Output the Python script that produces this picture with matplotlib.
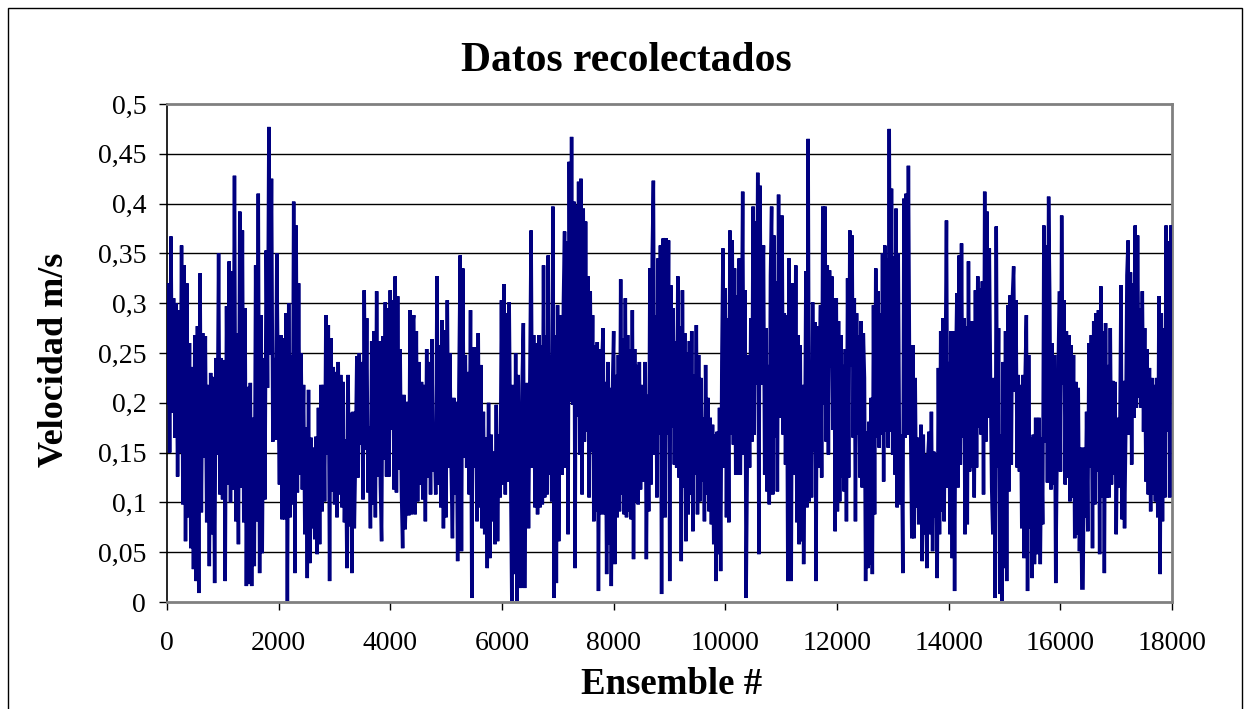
import numpy as np
import matplotlib
matplotlib.use("Agg")
import matplotlib.pyplot as plt
from matplotlib.patches import Rectangle
from matplotlib.ticker import FuncFormatter

plt.rcParams['font.family'] = ['Liberation Serif', 'DejaVu Serif']

# Velocity readings (m/s), segment by segment along the ensemble axis
seg_bounds = [0, 2180, 4420, 6660, 8900, 11140, 13380, 15620, 18000]

seg1 = [0.20, 0.32, 0.15, 0.367, 0.19, 0.305, 0.165, 0.30, 0.126, 0.293, 0.15, 0.358, 0.098, 0.338,
        0.061, 0.32, 0.085, 0.26, 0.054, 0.236, 0.033, 0.268, 0.021, 0.277, 0.009, 0.33, 0.09, 0.27,
        0.145, 0.267, 0.08, 0.218, 0.036, 0.23, 0.068, 0.226, 0.019, 0.245, 0.148, 0.35, 0.108, 0.245,
        0.103, 0.243, 0.021, 0.297, 0.118, 0.342, 0.10, 0.332, 0.113, 0.428, 0.081, 0.27, 0.058, 0.392,
        0.115, 0.373, 0.08, 0.295, 0.016, 0.216, 0.018, 0.22, 0.016, 0.185, 0.036, 0.338, 0.081, 0.41,
        0.029, 0.288, 0.049, 0.245, 0.103, 0.353, 0.215, 0.477, 0.248, 0.425, 0.161, 0.245, 0.163, 0.35,
        0.215, 0.118, 0.268, 0.083, 0.265, 0.083, 0.29, 0.001]

seg2 = [0.30, 0.085, 0.248, 0.098, 0.402, 0.029, 0.378, 0.11, 0.32, 0.128, 0.25, 0.113, 0.218, 0.068,
        0.175, 0.024, 0.213, 0.039, 0.165, 0.074, 0.155, 0.063, 0.166, 0.048, 0.195, 0.058, 0.218, 0.091,
        0.218, 0.101, 0.288, 0.148, 0.278, 0.021, 0.265, 0.111, 0.236, 0.098, 0.231, 0.085, 0.241, 0.108,
        0.228, 0.095, 0.221, 0.08, 0.163, 0.034, 0.228, 0.076, 0.19, 0.029, 0.191, 0.074, 0.151, 0.247,
        0.125, 0.25, 0.158, 0.241, 0.103, 0.313, 0.153, 0.285, 0.11, 0.176, 0.074, 0.262, 0.098, 0.272,
        0.085, 0.312, 0.126, 0.262, 0.118, 0.061, 0.267, 0.143, 0.301, 0.126, 0.295, 0.126, 0.313, 0.173,
        0.303, 0.113, 0.327, 0.11, 0.307, 0.133, 0.254, 0.113, 0.054, 0.208, 0.073, 0.115, 0.201, 0.087,
        0.293, 0.088, 0.278]

seg3 = [0.288, 0.088, 0.272, 0.101, 0.241, 0.118, 0.221, 0.103, 0.218, 0.081, 0.254, 0.125, 0.241,
        0.108, 0.264, 0.131, 0.168, 0.108, 0.327, 0.118, 0.258, 0.095, 0.283, 0.074, 0.273, 0.085, 0.303,
        0.135, 0.25, 0.135, 0.064, 0.205, 0.108, 0.201, 0.041, 0.218, 0.348, 0.051, 0.335, 0.145, 0.248,
        0.135, 0.231, 0.108, 0.293, 0.004, 0.256, 0.135, 0.256, 0.081, 0.27, 0.095, 0.238, 0.074, 0.191,
        0.068, 0.165, 0.034, 0.20, 0.044, 0.168, 0.081, 0.151, 0.058, 0.198, 0.061, 0.168, 0.105, 0.303,
        0.118, 0.319, 0.108, 0.29, 0.121, 0.301, 0.145, 0.001, 0.218, 0.028, 0.25, 0.001, 0.228, 0.101,
        0.014, 0.218, 0.28, 0.014, 0.168, 0.22, 0.074, 0.225, 0.373, 0.135, 0.268, 0.095, 0.26, 0.088]

seg4 = [0.268, 0.095, 0.258, 0.098, 0.338, 0.105, 0.268, 0.108, 0.348, 0.128, 0.248, 0.101, 0.397,
        0.004, 0.268, 0.019, 0.298, 0.061, 0.205, 0.288, 0.128, 0.301, 0.372, 0.135, 0.362, 0.068, 0.442,
        0.201, 0.467, 0.198, 0.402, 0.034, 0.398, 0.186, 0.422, 0.148, 0.425, 0.108, 0.395, 0.161, 0.382,
        0.171, 0.327, 0.105, 0.312, 0.151, 0.288, 0.081, 0.258, 0.091, 0.261, 0.011, 0.254, 0.088, 0.245,
        0.275, 0.088, 0.221, 0.028, 0.241, 0.058, 0.215, 0.016, 0.215, 0.272, 0.038, 0.228, 0.085, 0.248,
        0.091, 0.324, 0.108, 0.265, 0.088, 0.305, 0.085, 0.268, 0.091, 0.254, 0.083, 0.293, 0.043, 0.254,
        0.101, 0.238, 0.098, 0.241, 0.113, 0.218, 0.121, 0.186, 0.241, 0.043, 0.208, 0.091, 0.335, 0.118,
        0.348, 0.423, 0.148, 0.288, 0.105, 0.345, 0.168, 0.358, 0.008, 0.365]

seg5 = [0.362, 0.085, 0.365, 0.168, 0.363, 0.021, 0.318, 0.175, 0.295, 0.138, 0.262, 0.135, 0.327,
        0.125, 0.277, 0.041, 0.313, 0.115, 0.27, 0.061, 0.251, 0.088, 0.262, 0.108, 0.272, 0.071, 0.228,
        0.128, 0.278, 0.088, 0.248, 0.101, 0.225, 0.121, 0.185, 0.081, 0.238, 0.108, 0.205, 0.091, 0.185,
        0.078, 0.178, 0.058, 0.168, 0.021, 0.171, 0.048, 0.195, 0.031, 0.241, 0.355, 0.135, 0.315, 0.085,
        0.285, 0.08, 0.373, 0.168, 0.363, 0.158, 0.335, 0.128, 0.308, 0.128, 0.345, 0.128, 0.248, 0.412,
        0.148, 0.313, 0.004, 0.141, 0.248, 0.135, 0.285, 0.161, 0.397, 0.168, 0.382, 0.218, 0.431, 0.048,
        0.418, 0.218, 0.308, 0.358, 0.128, 0.275, 0.111, 0.238, 0.098, 0.328, 0.397, 0.108, 0.368, 0.165,
        0.322, 0.111, 0.409, 0.185, 0.308, 0.388, 0.168, 0.29, 0.138, 0.288, 0.021]

seg6 = [0.345, 0.135, 0.021, 0.32, 0.151, 0.128, 0.338, 0.08, 0.268, 0.058, 0.258, 0.061, 0.218, 0.038,
        0.141, 0.332, 0.095, 0.465, 0.101, 0.228, 0.105, 0.301, 0.151, 0.281, 0.021, 0.277, 0.135, 0.235,
        0.298, 0.125, 0.397, 0.198, 0.397, 0.161, 0.338, 0.148, 0.333, 0.235, 0.327, 0.173, 0.305, 0.071,
        0.305, 0.091, 0.282, 0.101, 0.268, 0.125, 0.238, 0.111, 0.254, 0.081, 0.325, 0.125, 0.373, 0.236,
        0.368, 0.165, 0.305, 0.081, 0.29, 0.168, 0.268, 0.125, 0.282, 0.115, 0.27, 0.225, 0.021, 0.171,
        0.034, 0.181, 0.038, 0.205, 0.028, 0.298, 0.088, 0.335, 0.165, 0.312, 0.155, 0.29, 0.168, 0.35,
        0.121, 0.358, 0.171, 0.345, 0.155, 0.475, 0.171, 0.415, 0.148, 0.347, 0.128, 0.395, 0.095, 0.35,
        0.155, 0.098, 0.168, 0.029, 0.405, 0.165, 0.41, 0.168, 0.438, 0.235, 0.168, 0.064, 0.258]

seg7 = [0.064, 0.225, 0.095, 0.165, 0.078, 0.128, 0.178, 0.041, 0.168, 0.068, 0.148, 0.034, 0.148,
        0.171, 0.068, 0.191, 0.051, 0.151, 0.085, 0.148, 0.024, 0.235, 0.068, 0.272, 0.091, 0.285, 0.081,
        0.238, 0.383, 0.115, 0.241, 0.068, 0.272, 0.044, 0.272, 0.011, 0.235, 0.31, 0.115, 0.348, 0.138,
        0.36, 0.165, 0.285, 0.068, 0.277, 0.078, 0.342, 0.131, 0.282, 0.135, 0.282, 0.105, 0.313, 0.135,
        0.327, 0.175, 0.315, 0.168, 0.322, 0.108, 0.412, 0.161, 0.392, 0.185, 0.355, 0.225, 0.115, 0.068,
        0.225, 0.004, 0.377, 0.135, 0.275, 0.008, 0.168, 0.001, 0.241, 0.034, 0.272, 0.021, 0.298, 0.111,
        0.308, 0.138, 0.308, 0.337, 0.211, 0.303, 0.135, 0.228, 0.131, 0.218, 0.074, 0.228, 0.044, 0.231,
        0.288, 0.011, 0.248, 0.074, 0.165, 0.024, 0.168, 0.038, 0.185, 0.048, 0.168]

seg8 = [0.185, 0.038, 0.165, 0.078, 0.378, 0.16, 0.358, 0.12, 0.407, 0.303, 0.113, 0.26, 0.118, 0.248,
        0.019, 0.135, 0.221, 0.312, 0.131, 0.388, 0.218, 0.303, 0.118, 0.272, 0.125, 0.268, 0.101, 0.258,
        0.105, 0.248, 0.064, 0.221, 0.068, 0.215, 0.051, 0.155, 0.014, 0.014, 0.155, 0.085, 0.191, 0.071,
        0.26, 0.135, 0.268, 0.054, 0.282, 0.098, 0.29, 0.131, 0.293, 0.048, 0.317, 0.105, 0.272, 0.029,
        0.28, 0.105, 0.238, 0.105, 0.275, 0.118, 0.222, 0.128, 0.221, 0.068, 0.185, 0.115, 0.165, 0.318,
        0.083, 0.222, 0.074, 0.168, 0.328, 0.363, 0.168, 0.331, 0.138, 0.32, 0.185, 0.378, 0.195, 0.368,
        0.205, 0.295, 0.195, 0.312, 0.171, 0.275, 0.121, 0.254, 0.108, 0.235, 0.091, 0.225, 0.108, 0.218,
        0.101, 0.225, 0.085, 0.307, 0.028, 0.29, 0.081, 0.275, 0.105, 0.378, 0.171, 0.362, 0.105, 0.378,
        0.268]

segments = [seg1, seg2, seg3, seg4, seg5, seg6, seg7, seg8]

xs, ys = [], []
for k, vals in enumerate(segments):
    last = (k == len(segments) - 1)
    xs.append(np.linspace(seg_bounds[k], seg_bounds[k + 1], len(vals), endpoint=last))
    ys.append(np.array(vals))
ensemble = np.concatenate(xs)
velocity = np.concatenate(ys)

title = "Datos recolectados"
xlabel = "Ensemble #"
ylabel = "Velocidad m/s"
xticks = list(range(0, 18001, 2000))
yticks = [0, 0.05, 0.1, 0.15, 0.2, 0.25, 0.3, 0.35, 0.4, 0.45, 0.5]

W, H = 1244, 709
fig = plt.figure(figsize=(W / 100, H / 100), dpi=100)
fig.patch.set_facecolor('white')
fig.patches.append(Rectangle((8 / W, -0.01), (1242 - 8) / W, (H - 8) / H + 0.01,
                             transform=fig.transFigure, fill=False, edgecolor='black',
                             linewidth=1.0))

ax = fig.add_axes([167 / W, (H - 602) / H, (1172 - 167) / W, (602 - 104) / H])
ax.set_facecolor('white')
for y in yticks[1:-1]:
    ax.axhline(y, color='black', linewidth=1.0, zorder=1)

ax.plot(ensemble, velocity, color='#000080', linewidth=2.5, solid_joinstyle='miter', zorder=3)

ax.set_xlim(0, 18000)
ax.set_ylim(0, 0.5)
ax.set_xticks(xticks)
ax.set_yticks(yticks)
ax.yaxis.set_major_formatter(FuncFormatter(lambda v, p: ('%g' % round(v, 2)).replace('.', ',')))
ax.tick_params(axis='both', direction='out', length=6, width=1.0, color='black',
               labelsize=20, pad=9)
ax.tick_params(axis='x', pad=15)

for side in ['top', 'right']:
    ax.spines[side].set_color('#808080')
    ax.spines[side].set_linewidth(2.0)
ax.spines['left'].set_color('black')
ax.spines['left'].set_linewidth(1.2)
ax.spines['bottom'].set_color('#808080')
ax.spines['bottom'].set_linewidth(2.0)

fig.text(626 / W, 1 - 61 / H, title, ha='center', va='center', fontsize=30, fontweight='bold')
fig.text(672 / W, 1 - 684 / H, xlabel, ha='center', va='center', fontsize=26.5, fontweight='bold')
fig.text(55 / W, 1 - 360 / H, ylabel, ha='center', va='center', rotation=90,
         fontsize=26, fontweight='bold')

fig.savefig('out.png', dpi=100, facecolor='white')
